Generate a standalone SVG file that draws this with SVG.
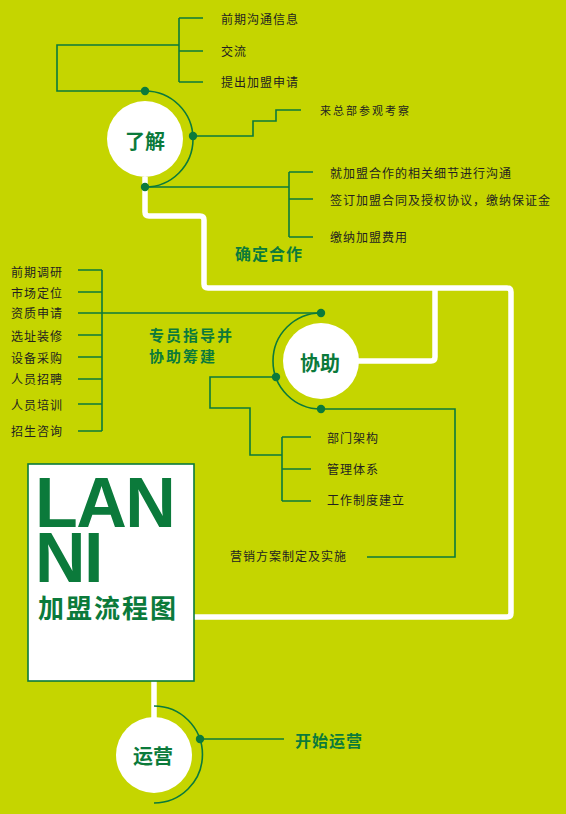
<svg xmlns="http://www.w3.org/2000/svg" width="566" height="814" viewBox="0 0 566 814">
<style>
.g{fill:none;stroke:#0b7a3b;stroke-width:1.6}
.w{fill:none;stroke:#ffffff;stroke-width:5.5;stroke-linejoin:round}
.dot{fill:#0b7a3b}
.t{font-family:"Noto Sans CJK SC","Noto Sans",sans-serif;font-size:12px;fill:#231f20;letter-spacing:1px;dominant-baseline:central}
.s{font-family:"Noto Sans CJK SC","Noto Sans",sans-serif;font-size:11px;fill:#231f20;letter-spacing:2px;dominant-baseline:central}
.h{font-family:"Noto Sans CJK SC","Noto Sans",sans-serif;font-size:16px;font-weight:bold;fill:#0b7a3b;letter-spacing:1px;dominant-baseline:central}
.h2{font-family:"Noto Sans CJK SC","Noto Sans",sans-serif;font-size:15px;font-weight:bold;fill:#0b7a3b;letter-spacing:2px;dominant-baseline:central}
.c{font-family:"Noto Sans CJK SC","Noto Sans",sans-serif;font-size:20px;font-weight:bold;fill:#0b7a3b;text-anchor:middle;dominant-baseline:central}
.big{font-family:"Liberation Sans",Arial,sans-serif;font-size:70px;font-weight:bold;fill:#0b7a3b;letter-spacing:-1.5px}
.circ{fill:#ffffff}
</style>
<rect x="0" y="0" width="566" height="814" fill="#c5d500"/>

<g id="flow">
<path class="w" d="M145,177 V212 Q145,216 149,216 H200 Q204,216 204,220 V284 Q204,288 208,288 H507 Q511,288 511,292 V613 Q511,617 507,617 H194"/>
<path class="w" d="M435,288 V357 Q435,361 431,361 H356"/>
<path class="w" d="M154,681 V720"/>
</g>

<g id="connectors">
<path class="g" d="M145,91 A48,48 0 0 1 145,187"/>
<path class="g" d="M145,91 H57 V45 H179"/>
<path class="g" d="M179,18 V82 M179,18 H203 M179,51 H203 M179,82 H203"/>
<path class="g" d="M193,136 H253 V121 H276 V110 H301"/>
<path class="g" d="M145,187 H289"/>
<path class="g" d="M289,172 V237 M289,172 H313 M289,199 H313 M289,237 H313"/>
<path class="g" d="M321,313 A48,48 0 0 0 321,409"/>
<path class="g" d="M321,313 H102"/>
<path class="g" d="M102,270 V431 M78,270 H102 M78,292 H102 M78,313 H102 M78,335 H102 M78,357 H102 M78,379 H102 M78,404 H102 M78,431 H102"/>
<path class="g" d="M276,377 H210 V408 H250 V455 H282"/>
<path class="g" d="M282,437 V501 M282,437 H311 M282,469 H311 M282,501 H311"/>
<path class="g" d="M321,409 H455 V557 H367"/>
<path class="g" d="M154,706 A48.5,48.5 0 0 1 154,803"/>
<path class="g" d="M200,739 H284"/>
</g>

<g id="dots">
<circle class="dot" cx="145" cy="91" r="4.2"/>
<circle class="dot" cx="193" cy="136" r="4.2"/>
<circle class="dot" cx="145" cy="187" r="4.2"/>
<circle class="dot" cx="321" cy="313" r="4.2"/>
<circle class="dot" cx="276" cy="377" r="4.2"/>
<circle class="dot" cx="321" cy="409" r="4.2"/>
<circle class="dot" cx="200" cy="739" r="4.2"/>
</g>

<g id="node-liaojie">
<circle class="circ" cx="145" cy="139" r="38"/>
<text class="c" x="145" y="140">了解</text>
</g>

<g id="node-xiezhu">
<circle class="circ" cx="321" cy="361" r="38"/>
<text class="c" x="320" y="362">协助</text>
</g>

<g id="node-yunying">
<circle class="circ" cx="154" cy="755" r="38"/>
<text class="c" x="153" y="755">运营</text>
</g>

<g id="title-box">
<rect x="28" y="464" width="166" height="217" fill="#ffffff" stroke="#0b7a3b" stroke-width="1.6"/>
<text class="big" x="35" y="527">LAN</text>
<text class="big" x="35" y="582">NI</text>
<text x="38" y="606" font-family="Noto Sans CJK SC, Noto Sans, sans-serif" font-size="26" font-weight="bold" fill="#0b7a3b" letter-spacing="2" dominant-baseline="central">加盟流程图</text>
</g>

<g id="labels-liaojie">
<text class="t" x="221" y="18">前期沟通信息</text>
<text class="t" x="221" y="50">交流</text>
<text class="t" x="221" y="81">提出加盟申请</text>
<text class="s" x="320" y="110">来总部参观考察</text>
<text class="t" x="330" y="172">就加盟合作的相关细节进行沟通</text>
<text class="t" x="330" y="199">签订加盟合同及授权协议，缴纳保证金</text>
<text class="t" x="330" y="236">缴纳加盟费用</text>
<text class="h" x="235" y="253">确定合作</text>
</g>

<g id="labels-xiezhu">
<text class="t" x="11" y="271">前期调研</text>
<text class="t" x="11" y="292">市场定位</text>
<text class="t" x="11" y="312">资质申请</text>
<text class="t" x="11" y="335">选址装修</text>
<text class="t" x="11" y="357">设备采购</text>
<text class="t" x="11" y="378">人员招聘</text>
<text class="t" x="11" y="404">人员培训</text>
<text class="t" x="11" y="430">招生咨询</text>
<text class="h2" x="149" y="334">专员指导并</text>
<text class="h2" x="149" y="355">协助筹建</text>
<text class="t" x="327" y="437">部门架构</text>
<text class="t" x="327" y="468">管理体系</text>
<text class="t" x="327" y="499">工作制度建立</text>
<text class="t" x="230" y="555">营销方案制定及实施</text>
</g>

<g id="labels-yunying">
<text class="h" x="295" y="740">开始运营</text>
</g>
</svg>
